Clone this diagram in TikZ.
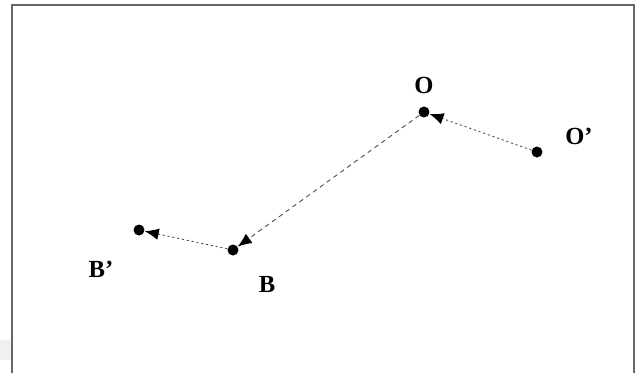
\documentclass[tikz,border=0pt]{standalone}
\usepackage{fontspec}
\setmainfont{Liberation Serif}
\usetikzlibrary{arrows.meta}
\tikzset{
  dot/.style={circle, fill=black, inner sep=0pt, minimum size=0.22cm},
  lbl/.style={font=\fontsize{14}{16}\selectfont\bfseries, inner sep=0pt},
  shortdash/.style={draw=black!70, line width=0.5pt, dash pattern=on 1.2pt off 1.6pt},
  longdash/.style={draw=black!70, line width=0.5pt, dash pattern=on 2.6pt off 2.2pt},
  tip/.style={-{Latex[length=2.8mm,width=2.3mm,color=black]}}
}
\begin{document}
\begin{tikzpicture}[x=0.02cm, y=-0.02cm]
  \useasboundingbox (0,0) rectangle (637,373);
  % frame, open at the bottom
  \fill[black!6] (0,340) rectangle (11,360);
  \draw[black!60, line width=0.6pt] (12,373) -- (12,5) -- (634,5) -- (634,373);

  % positions
  \node[dot] (O)  at (424,112) {};
  \node[dot] (Op) at (537,152) {};
  \node[dot] (B)  at (233,250) {};
  \node[dot] (Bp) at (139,230) {};

  % labels
  \node[lbl] (O-lbl)  at (424,85)  {O};
  \node[lbl] (Op-lbl) at (579,136) {O'};
  \node[lbl] (B-lbl)  at (267,284) {B};
  \node[lbl] (Bp-lbl) at (101,269) {B'};

  % displacements
  \draw[shortdash, tip] (Op) -- (O);
  \draw[longdash, tip] (O) -- (B);
  \draw[shortdash, tip] (B) -- (Bp);
\end{tikzpicture}
\end{document}
